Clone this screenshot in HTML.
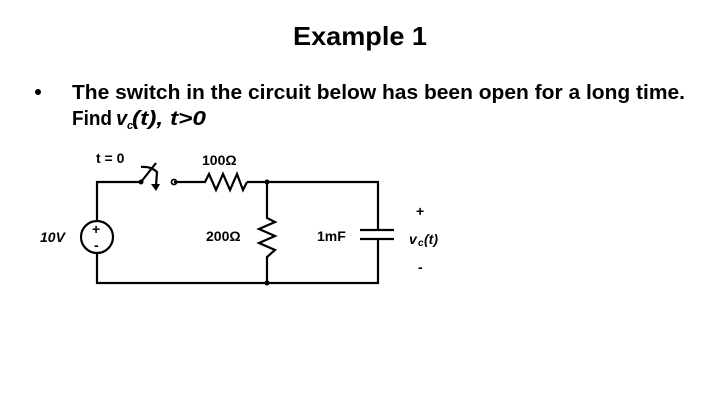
<!DOCTYPE html>
<html><head><style>html,body{margin:0;padding:0;background:#fff;}svg{display:block}</style></head>
<body>
<svg width="720" height="405" viewBox="0 0 720 405" xmlns="http://www.w3.org/2000/svg">
<g font-family="Liberation Sans, sans-serif" font-weight="bold" fill="#000">
<text x="293" y="45" font-size="26" textLength="134" lengthAdjust="spacingAndGlyphs">Example 1</text>
<circle cx="38" cy="92" r="3"/>
<text x="72" y="99" font-size="20" textLength="613" lengthAdjust="spacingAndGlyphs">The switch in the circuit below has been open for a long time.</text>
<text x="72" y="125" font-size="20" textLength="40" lengthAdjust="spacingAndGlyphs">Find</text>
<text x="116" y="125" font-size="20" font-style="italic">v</text>
<text x="127" y="129" font-size="11" font-style="italic">c</text>
<text x="132" y="125" font-size="20" font-style="italic" textLength="74" lengthAdjust="spacingAndGlyphs">(t), t&gt;0</text>
</g>
<g stroke="#000" stroke-width="2.2" fill="none">
<polyline points="141,182 97,182 97,221"/>
<polyline points="97,253 97,283 378,283 378,239"/>
<polyline points="378,230 378,182 247,182"/>
<polyline points="174,182 205,182 209,174 216,190 223,174 230,190 237,174 243,190 247,182"/>
<polyline points="267,182 267,218 275,222 259,229 275,236 259,243 275,250 267,257 267,283"/>
<circle cx="97" cy="237" r="16"/>
<line x1="360" y1="230" x2="394" y2="230"/>
<line x1="360" y1="239" x2="394" y2="239"/>
<circle cx="174" cy="182" r="2.5" stroke-width="1.8"/>
<line x1="141" y1="182" x2="156" y2="163"/>
<path d="M141,167 Q151,166 157,172 L156,186"/>
</g>
<path d="M151,184 L156,191 L160,184 Z" fill="#000"/>
<circle cx="141" cy="182" r="2.5" fill="#000"/>
<circle cx="267" cy="182" r="2.5" fill="#000"/>
<circle cx="267" cy="283" r="2.5" fill="#000"/>
<g font-family="Liberation Sans, sans-serif" font-weight="bold" fill="#000" font-size="14">
<text x="96" y="163">t = 0</text>
<text x="202" y="165">100Ω</text>
<text x="206" y="241">200Ω</text>
<text x="317" y="241">1mF</text>
<text x="92" y="234" font-size="14">+</text>
<text x="94" y="250" font-size="14">-</text>
<text x="40" y="242" font-style="italic">10V</text>
<text x="416" y="216">+</text>
<text x="409" y="244" font-style="italic">v</text>
<text x="418" y="246" font-size="10" font-style="italic">c</text>
<text x="424" y="244" font-style="italic">(t)</text>
<text x="418" y="272">-</text>
</g>
</svg>
</body></html>
